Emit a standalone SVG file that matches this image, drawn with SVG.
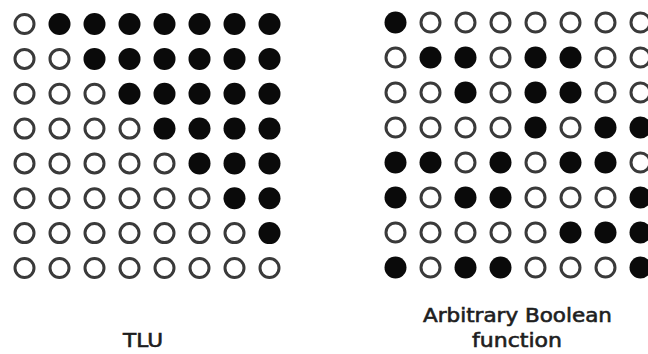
<svg xmlns="http://www.w3.org/2000/svg" xmlns:xlink="http://www.w3.org/1999/xlink" width="648" height="354" viewBox="0 0 648 354">
  <style>
    .off { fill: #ffffff; stroke: #3a3a3a; stroke-width: 3; }
    .on { fill: #0a0a0a; stroke: none; }
    .lbl { font-family: "DejaVu Sans", "Liberation Sans", sans-serif; font-weight: normal; font-size: 19px; fill: #1e1e1e; stroke: #1e1e1e; stroke-width: 0.6; text-anchor: middle; }
  </style>
  <defs>
    <circle id="o" r="9.5" class="off"/>
    <circle id="f" r="11" class="on"/>
  </defs>
  <rect width="648" height="354" fill="#ffffff"/>
  <g id="tlu-grid">
    <g id="tlu-row1">
      <use xlink:href="#o" x="24.5" y="24"/><use xlink:href="#f" x="59.5" y="24"/><use xlink:href="#f" x="94.5" y="24"/><use xlink:href="#f" x="129.5" y="24"/><use xlink:href="#f" x="164.5" y="24"/><use xlink:href="#f" x="199.5" y="24"/><use xlink:href="#f" x="234.5" y="24"/><use xlink:href="#f" x="269.5" y="24"/>
    </g>
    <g id="tlu-row2">
      <use xlink:href="#o" x="24.5" y="58.9"/><use xlink:href="#o" x="59.5" y="58.9"/><use xlink:href="#f" x="94.5" y="58.9"/><use xlink:href="#f" x="129.5" y="58.9"/><use xlink:href="#f" x="164.5" y="58.9"/><use xlink:href="#f" x="199.5" y="58.9"/><use xlink:href="#f" x="234.5" y="58.9"/><use xlink:href="#f" x="269.5" y="58.9"/>
    </g>
    <g id="tlu-row3">
      <use xlink:href="#o" x="24.5" y="93.7"/><use xlink:href="#o" x="59.5" y="93.7"/><use xlink:href="#o" x="94.5" y="93.7"/><use xlink:href="#f" x="129.5" y="93.7"/><use xlink:href="#f" x="164.5" y="93.7"/><use xlink:href="#f" x="199.5" y="93.7"/><use xlink:href="#f" x="234.5" y="93.7"/><use xlink:href="#f" x="269.5" y="93.7"/>
    </g>
    <g id="tlu-row4">
      <use xlink:href="#o" x="24.5" y="128.6"/><use xlink:href="#o" x="59.5" y="128.6"/><use xlink:href="#o" x="94.5" y="128.6"/><use xlink:href="#o" x="129.5" y="128.6"/><use xlink:href="#f" x="164.5" y="128.6"/><use xlink:href="#f" x="199.5" y="128.6"/><use xlink:href="#f" x="234.5" y="128.6"/><use xlink:href="#f" x="269.5" y="128.6"/>
    </g>
    <g id="tlu-row5">
      <use xlink:href="#o" x="24.5" y="163.4"/><use xlink:href="#o" x="59.5" y="163.4"/><use xlink:href="#o" x="94.5" y="163.4"/><use xlink:href="#o" x="129.5" y="163.4"/><use xlink:href="#o" x="164.5" y="163.4"/><use xlink:href="#f" x="199.5" y="163.4"/><use xlink:href="#f" x="234.5" y="163.4"/><use xlink:href="#f" x="269.5" y="163.4"/>
    </g>
    <g id="tlu-row6">
      <use xlink:href="#o" x="24.5" y="198.3"/><use xlink:href="#o" x="59.5" y="198.3"/><use xlink:href="#o" x="94.5" y="198.3"/><use xlink:href="#o" x="129.5" y="198.3"/><use xlink:href="#o" x="164.5" y="198.3"/><use xlink:href="#o" x="199.5" y="198.3"/><use xlink:href="#f" x="234.5" y="198.3"/><use xlink:href="#f" x="269.5" y="198.3"/>
    </g>
    <g id="tlu-row7">
      <use xlink:href="#o" x="24.5" y="233.1"/><use xlink:href="#o" x="59.5" y="233.1"/><use xlink:href="#o" x="94.5" y="233.1"/><use xlink:href="#o" x="129.5" y="233.1"/><use xlink:href="#o" x="164.5" y="233.1"/><use xlink:href="#o" x="199.5" y="233.1"/><use xlink:href="#o" x="234.5" y="233.1"/><use xlink:href="#f" x="269.5" y="233.1"/>
    </g>
    <g id="tlu-row8">
      <use xlink:href="#o" x="24.5" y="268"/><use xlink:href="#o" x="59.5" y="268"/><use xlink:href="#o" x="94.5" y="268"/><use xlink:href="#o" x="129.5" y="268"/><use xlink:href="#o" x="164.5" y="268"/><use xlink:href="#o" x="199.5" y="268"/><use xlink:href="#o" x="234.5" y="268"/><use xlink:href="#o" x="269.5" y="268"/>
    </g>
  </g>
  <g id="boolean-grid">
    <g id="bool-row1">
      <use xlink:href="#f" x="395.5" y="22.5"/><use xlink:href="#o" x="430.5" y="22.5"/><use xlink:href="#o" x="465.5" y="22.5"/><use xlink:href="#o" x="500.5" y="22.5"/><use xlink:href="#o" x="535.5" y="22.5"/><use xlink:href="#o" x="570.5" y="22.5"/><use xlink:href="#o" x="605.5" y="22.5"/><use xlink:href="#o" x="640.5" y="22.5"/>
    </g>
    <g id="bool-row2">
      <use xlink:href="#o" x="395.5" y="57.5"/><use xlink:href="#f" x="430.5" y="57.5"/><use xlink:href="#f" x="465.5" y="57.5"/><use xlink:href="#o" x="500.5" y="57.5"/><use xlink:href="#f" x="535.5" y="57.5"/><use xlink:href="#f" x="570.5" y="57.5"/><use xlink:href="#o" x="605.5" y="57.5"/><use xlink:href="#o" x="640.5" y="57.5"/>
    </g>
    <g id="bool-row3">
      <use xlink:href="#o" x="395.5" y="92.5"/><use xlink:href="#o" x="430.5" y="92.5"/><use xlink:href="#f" x="465.5" y="92.5"/><use xlink:href="#o" x="500.5" y="92.5"/><use xlink:href="#f" x="535.5" y="92.5"/><use xlink:href="#f" x="570.5" y="92.5"/><use xlink:href="#o" x="605.5" y="92.5"/><use xlink:href="#o" x="640.5" y="92.5"/>
    </g>
    <g id="bool-row4">
      <use xlink:href="#o" x="395.5" y="127.5"/><use xlink:href="#o" x="430.5" y="127.5"/><use xlink:href="#o" x="465.5" y="127.5"/><use xlink:href="#o" x="500.5" y="127.5"/><use xlink:href="#f" x="535.5" y="127.5"/><use xlink:href="#o" x="570.5" y="127.5"/><use xlink:href="#f" x="605.5" y="127.5"/><use xlink:href="#f" x="640.5" y="127.5"/>
    </g>
    <g id="bool-row5">
      <use xlink:href="#f" x="395.5" y="162.5"/><use xlink:href="#f" x="430.5" y="162.5"/><use xlink:href="#o" x="465.5" y="162.5"/><use xlink:href="#f" x="500.5" y="162.5"/><use xlink:href="#o" x="535.5" y="162.5"/><use xlink:href="#f" x="570.5" y="162.5"/><use xlink:href="#f" x="605.5" y="162.5"/><use xlink:href="#o" x="640.5" y="162.5"/>
    </g>
    <g id="bool-row6">
      <use xlink:href="#f" x="395.5" y="197.5"/><use xlink:href="#o" x="430.5" y="197.5"/><use xlink:href="#f" x="465.5" y="197.5"/><use xlink:href="#f" x="500.5" y="197.5"/><use xlink:href="#o" x="535.5" y="197.5"/><use xlink:href="#o" x="570.5" y="197.5"/><use xlink:href="#o" x="605.5" y="197.5"/><use xlink:href="#f" x="640.5" y="197.5"/>
    </g>
    <g id="bool-row7">
      <use xlink:href="#o" x="395.5" y="232.5"/><use xlink:href="#o" x="430.5" y="232.5"/><use xlink:href="#o" x="465.5" y="232.5"/><use xlink:href="#o" x="500.5" y="232.5"/><use xlink:href="#o" x="535.5" y="232.5"/><use xlink:href="#f" x="570.5" y="232.5"/><use xlink:href="#f" x="605.5" y="232.5"/><use xlink:href="#f" x="640.5" y="232.5"/>
    </g>
    <g id="bool-row8">
      <use xlink:href="#f" x="395.5" y="267.5"/><use xlink:href="#o" x="430.5" y="267.5"/><use xlink:href="#f" x="465.5" y="267.5"/><use xlink:href="#f" x="500.5" y="267.5"/><use xlink:href="#o" x="535.5" y="267.5"/><use xlink:href="#o" x="570.5" y="267.5"/><use xlink:href="#o" x="605.5" y="267.5"/><use xlink:href="#f" x="640.5" y="267.5"/>
    </g>
  </g>
  <g id="labels">
    <text id="label-tlu" class="lbl" x="143" y="347" textLength="40" lengthAdjust="spacingAndGlyphs">TLU</text>
    <text id="label-bool-1" class="lbl" x="517.5" y="322" textLength="189" lengthAdjust="spacingAndGlyphs">Arbitrary Boolean</text>
    <text id="label-bool-2" class="lbl" x="517" y="347" textLength="90" lengthAdjust="spacingAndGlyphs">function</text>
  </g>
</svg>
